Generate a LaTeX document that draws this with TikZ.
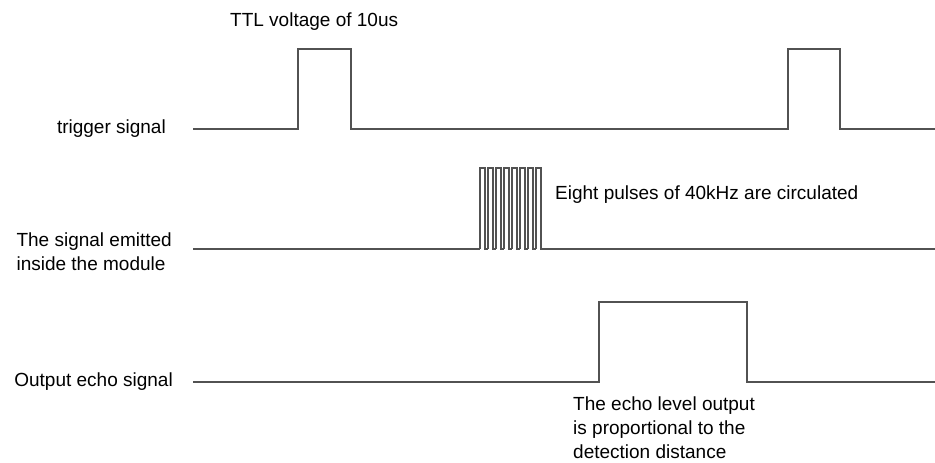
\documentclass[tikz,border=0pt]{standalone}
\usepackage{fontspec}
\setmainfont{Liberation Sans}
\usetikzlibrary{positioning}

\begin{document}
\begin{tikzpicture}[
    x=1pt, y=-1pt,
    sig/.style={line width=1.8pt, black!68, line join=miter},
    lbl/.style={font=\fontsize{19}{24}\selectfont, inner sep=0pt, align=#1},
    lbl/.default=left
  ]
  \useasboundingbox (0,0) rectangle (935,463);

  % signal names
  \node[lbl=right, anchor=east] (trig) at (166,129) {trigger signal};
  \node[lbl=left, anchor=east] (emit) at (172,252) {The signal emitted\\inside the module};
  \node[lbl=right, anchor=east] (echo) at (173,382) {Output echo signal};

  % trigger
  \draw[sig] (193,129) -- (298,129) -- (298,49) -- (351,49) -- (351,129)
    -- (788,129) -- (788,49) -- (840,49) -- (840,129) -- (935,129);
  \node[lbl, anchor=west] (ttl) at (230,22) {TTL voltage of 10us};

  % emitted burst
  \draw[sig] (193,249) -- (480,249);
  \foreach \i in {0,...,7}
    \draw[sig, line width=1.3pt] ({480+8*\i},249) -- ({480+8*\i},168) -- ({485+8*\i},168)
      -- ({485+8*\i},249) -- ({488+8*\i},249);
  \draw[sig] (541,249) -- (935,249);
  \node[lbl, anchor=west] (burst) at (555,195) {Eight pulses of 40kHz are circulated};

  % echo
  \draw[sig] (193,382) -- (599,382) -- (599,302) -- (747,302) -- (747,382) -- (935,382);
  \node[lbl, anchor=north west] (dist) at (573,397)
    {The echo level output\\is proportional to the\\detection distance};

\end{tikzpicture}
\end{document}
